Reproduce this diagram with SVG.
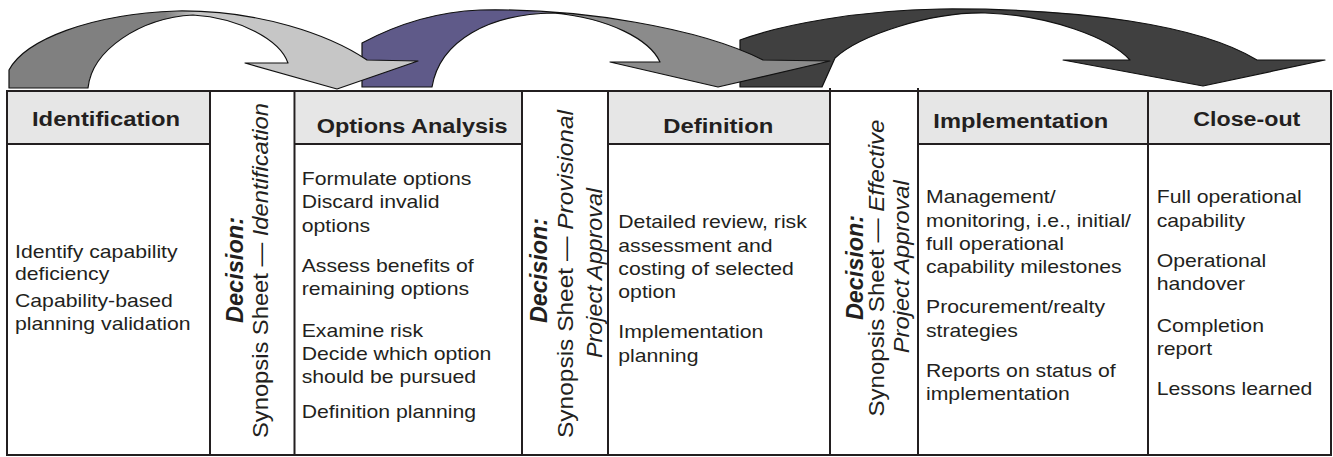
<svg xmlns="http://www.w3.org/2000/svg" width="1333" height="457" viewBox="0 0 1333 457">
<style>
.ln{stroke:#231f20;stroke-width:2;fill:none}
.hdr{fill:#e6e6e6}
.ht{font-family:"Liberation Sans",Arial,sans-serif;font-weight:bold;font-size:20px;fill:#231f20}
.bt{font-family:"Liberation Sans",Arial,sans-serif;font-size:18.6px;fill:#231f20}
.dt{font-family:"Liberation Sans",Arial,sans-serif;font-weight:bold;font-style:italic;font-size:23px;fill:#231f20}
.st{font-family:"Liberation Sans",Arial,sans-serif;font-size:21.8px;fill:#231f20}
.it{font-style:italic}
.arr{stroke:#111;stroke-width:1.2;stroke-linejoin:round}
</style>
<defs>
<linearGradient id="g1" gradientUnits="userSpaceOnUse" x1="165" y1="0" x2="195" y2="0">
<stop offset="0" stop-color="#808080"/><stop offset="1" stop-color="#c6c6c6"/>
</linearGradient>
<linearGradient id="g2" gradientUnits="userSpaceOnUse" x1="527" y1="0" x2="557" y2="0">
<stop offset="0" stop-color="#5f5a89"/><stop offset="1" stop-color="#8b8b8b"/>
</linearGradient>
</defs>
<rect width="1333" height="457" fill="#ffffff"/>

<g id="connectors">
<path id="arrow3" class="arr" fill="#404040" d="M740,87 L740,40 C780,25 860,10 940,9 C1080,8 1200,25 1257,60 L1325,60 L1203,86 L1063,60 L1130,60 C1110,38 1050,15 985,13 C930,12 860,35 835,58 L822,87 Z"/>
<path id="arrow2" class="arr" fill="url(#g2)" d="M362,87 L362,43 C390,28 430,12 480,10 C580,8 700,28 763,60 L830,61 L718,87 L610,62 L660,62 C650,40 610,18 553,13 C490,14 440,40 432,87 Z"/>
<path id="arrow1" class="arr" fill="url(#g1)" d="M9,88 L9,70 C25,40 90,14 177,11 C260,10 330,35 367,60 L418,61 L337,89 L245,63 L288,63 C280,40 240,18 193,15 C140,18 92,50 88,88 Z"/>
</g>

<g id="table-frame">
<rect class="hdr" x="8" y="92" width="201" height="51"/>
<rect class="hdr" x="296" y="92" width="225" height="51"/>
<rect class="hdr" x="609" y="92" width="220" height="51"/>
<rect class="hdr" x="919" y="92" width="228" height="51"/>
<rect class="hdr" x="1149" y="92" width="181" height="51"/>
<rect class="ln" x="7" y="91" width="1324" height="364"/>
<path class="ln" d="M210,91 V455 M294.5,91 V455 M522,91 V455 M608,91 V455 M830,88 V455 M918,88 V455 M1148,91 V455"/>
<path class="ln" d="M7,144 H210 M294.5,144 H522 M608,144 H830 M918,144 H1331"/>
</g>

<g id="identification">
<text class="ht" x="32" y="125.7" textLength="148" lengthAdjust="spacingAndGlyphs">Identification</text>
<g transform="translate(15,0) scale(1.14,1)">
<text class="bt"><tspan x="0" y="258">Identify capability</tspan><tspan x="0" y="280">deficiency</tspan><tspan x="0" y="307">Capability-based</tspan><tspan x="0" y="330">planning validation</tspan></text>
</g>
</g>

<g id="decision1">
<text class="dt" transform="translate(243,270) rotate(-90)" text-anchor="middle" textLength="106" lengthAdjust="spacingAndGlyphs">Decision:</text>
<text class="st" transform="translate(268,270.5) rotate(-90)" text-anchor="middle" textLength="335" lengthAdjust="spacingAndGlyphs">Synopsis Sheet — <tspan class="it">Identification</tspan></text>
</g>

<g id="options-analysis">
<text class="ht" x="316.7" y="132.5" textLength="191" lengthAdjust="spacingAndGlyphs">Options Analysis</text>
<g transform="translate(301.7,0) scale(1.14,1)">
<text class="bt"><tspan x="0" y="185">Formulate options</tspan><tspan x="0" y="208.3">Discard invalid</tspan><tspan x="0" y="231.7">options</tspan><tspan x="0" y="271.7">Assess benefits of</tspan><tspan x="0" y="295">remaining options</tspan><tspan x="0" y="336.7">Examine risk</tspan><tspan x="0" y="360">Decide which option</tspan><tspan x="0" y="383.3">should be pursued</tspan><tspan x="0" y="418.3">Definition planning</tspan></text>
</g>
</g>

<g id="decision2">
<text class="dt" transform="translate(547,270.5) rotate(-90)" text-anchor="middle" textLength="105" lengthAdjust="spacingAndGlyphs">Decision:</text>
<text class="st" transform="translate(573,274) rotate(-90)" text-anchor="middle" textLength="328" lengthAdjust="spacingAndGlyphs">Synopsis Sheet — <tspan class="it">Provisional</tspan></text>
<text class="st it" transform="translate(601.7,273) rotate(-90)" text-anchor="middle" textLength="170" lengthAdjust="spacingAndGlyphs">Project Approval</text>
</g>

<g id="definition">
<text class="ht" x="663.3" y="132.5" textLength="110" lengthAdjust="spacingAndGlyphs">Definition</text>
<g transform="translate(618.3,0) scale(1.14,1)">
<text class="bt"><tspan x="0" y="228.3">Detailed review, risk</tspan><tspan x="0" y="251.7">assessment and</tspan><tspan x="0" y="275">costing of selected</tspan><tspan x="0" y="298.3">option</tspan><tspan x="0" y="338.3">Implementation</tspan><tspan x="0" y="361.7">planning</tspan></text>
</g>
</g>

<g id="decision3">
<text class="dt" transform="translate(863,267.5) rotate(-90)" text-anchor="middle" textLength="105" lengthAdjust="spacingAndGlyphs">Decision:</text>
<text class="st" transform="translate(884,268) rotate(-90)" text-anchor="middle" textLength="297" lengthAdjust="spacingAndGlyphs">Synopsis Sheet — <tspan class="it">Effective</tspan></text>
<text class="st it" transform="translate(909,266.7) rotate(-90)" text-anchor="middle" textLength="173" lengthAdjust="spacingAndGlyphs">Project Approval</text>
</g>

<g id="implementation">
<text class="ht" x="933.3" y="128" textLength="175" lengthAdjust="spacingAndGlyphs">Implementation</text>
<g transform="translate(926,0) scale(1.14,1)">
<text class="bt"><tspan x="0" y="203.3">Management/</tspan><tspan x="0" y="226.7">monitoring, i.e., initial/</tspan><tspan x="0" y="250">full operational</tspan><tspan x="0" y="273.3">capability milestones</tspan><tspan x="0" y="313.3">Procurement/realty</tspan><tspan x="0" y="336.7">strategies</tspan><tspan x="0" y="376.7">Reports on status of</tspan><tspan x="0" y="400">implementation</tspan></text>
</g>
</g>

<g id="close-out">
<text class="ht" x="1193.3" y="126" textLength="107" lengthAdjust="spacingAndGlyphs">Close-out</text>
<g transform="translate(1156.7,0) scale(1.14,1)">
<text class="bt"><tspan x="0" y="203.3">Full operational</tspan><tspan x="0" y="226.7">capability</tspan><tspan x="0" y="266.7">Operational</tspan><tspan x="0" y="290">handover</tspan><tspan x="0" y="331.7">Completion</tspan><tspan x="0" y="355">report</tspan><tspan x="0" y="395">Lessons learned</tspan></text>
</g>
</g>
</svg>
